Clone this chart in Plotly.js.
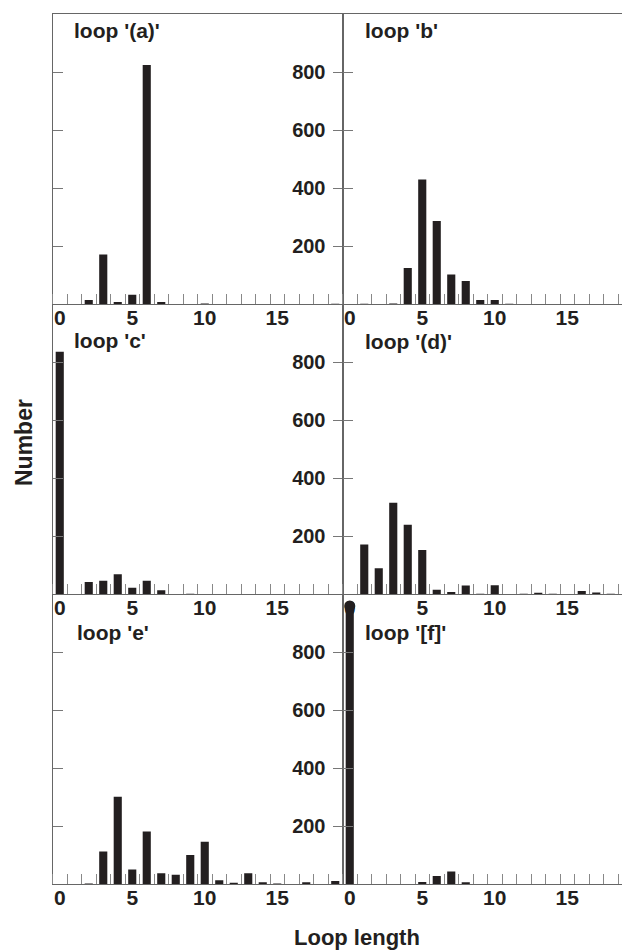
<!DOCTYPE html>
<html>
<head>
<meta charset="utf-8">
<script src="https://cdn.plot.ly/plotly-3.0.1.min.js"></script>
<style>
html, body { margin:0; padding:0; overflow:hidden; width:622px; height:951px; background:#fff; }
#chart { width:640px; height:951px; }
</style>
</head>
<body>
<div id="chart"></div>
<script>
// Loop length categories (bins)
const loopLengths = [0,1,2,3,4,5,6,7,8,9,10,11,12,13,14,15,16,17,18,19];
// Counts per panel
const loopA = [0,0,15,172,8,33,825,8,0,0,3,0,0,0,0,0,0,0,0,2];
const loopB = [0,2,0,3,125,430,287,103,80,15,15,2,0,0,0,0,0,0,0,0];
const loopC = [836,0,42,47,69,23,47,14,0,2,0,0,0,0,0,0,0,0,0,0];
const loopD = [0,172,90,316,240,153,16,8,30,2,31,0,2,5,2,0,11,6,2,0];
const loopE = [0,0,3,113,302,51,182,38,33,101,147,14,5,38,7,3,0,7,0,11];
const loopF = [960,0,0,0,0,8,29,44,7,0,0,0,0,0,0,0,0,0,0,0];
const panelLabels = ["loop '(a)'", "loop 'b'", "loop 'c'", "loop '(d)'", "loop 'e'", "loop '[f]'"];
const yTickVals = [200,400,600,800];
const xTickVals = [0,5,10,15];

const W = 640, H = 951;
const panels = [loopA, loopB, loopC, loopD, loopE, loopF];
const colPx = [[52.5,342.5],[342.5,632.5]];
const rowPx = [[14.3,304.3],[304.3,594.3],[594.3,884.3]];
const labelPos = [[72,17],[363,17],[72,327],[363,328],[75,619],[363,619]];

const barColor = '#231f20';
const font = "'Liberation Sans',Arial,Helvetica,sans-serif";

const data = [];
const layout = {
  width: W, height: H,
  margin: {l:0, r:0, t:0, b:0},
  paper_bgcolor: '#fff', plot_bgcolor: '#fff',
  showlegend: false,
  annotations: [],
  font: {family: font, color: '#231f20'}
};

panels.forEach((vals, i) => {
  const n = i + 1;
  const row = Math.floor(i / 2), col = i % 2;
  const xa = n === 1 ? 'x' : 'x' + n;
  const ya = n === 1 ? 'y' : 'y' + n;
  data.push({
    type: 'bar', x: loopLengths, y: vals, xaxis: xa, yaxis: ya,
    marker: {color: barColor, line: {width: 0}}, width: 0.56, hoverinfo: 'x+y'
  });
  const xk = n === 1 ? 'xaxis' : 'xaxis' + n;
  const yk = n === 1 ? 'yaxis' : 'yaxis' + n;
  layout[xk] = {
    domain: [colPx[col][0] / W, colPx[col][1] / W],
    anchor: ya,
    range: [-0.5, 19.5],
    showgrid: false, zeroline: false,
    showline: true, linecolor: '#666', linewidth: 1,
    mirror: row === 0,
    tickmode: 'array', tickvals: xTickVals, ticktext: xTickVals.map(String),
    ticks: '',
    tickfont: {family: font, size: 21, weight: 700, color: '#231f20'},
    ticklabelstandoff: -6,
    minor: {ticks: 'inside', ticklen: 10, tickcolor: '#888', tickwidth: 1,
            tickmode: 'linear', tick0: 0.5, dtick: 1, showgrid: false},
    fixedrange: true
  };
  layout[yk] = {
    domain: [1 - rowPx[row][1] / H, 1 - rowPx[row][0] / H],
    anchor: xa,
    range: [0, 1000],
    showgrid: false, zeroline: false,
    showline: true, linecolor: '#666', linewidth: 1,
    mirror: 'ticks',
    tickmode: 'array', tickvals: yTickVals, ticktext: yTickVals.map(String),
    ticks: 'inside', ticklen: 10, tickcolor: '#777', tickwidth: 1,
    showticklabels: col === 1,
    tickfont: {family: font, size: 20, weight: 700, color: '#231f20'},
    ticklabelstandoff: 12,
    fixedrange: true
  };
  layout.annotations.push({
    xref: 'paper', yref: 'paper',
    x: labelPos[i][0] / W, y: 1 - labelPos[i][1] / H,
    xanchor: 'left', yanchor: 'top', showarrow: false,
    text: panelLabels[i],
    font: {family: font, size: 21, weight: 700, color: '#231f20'}
  });
});

// rounded cap seen on the tallest bar of panel f
data.push({
  type: 'scatter', mode: 'markers', x: [loopLengths[0]], y: [loopF[0]],
  xaxis: 'x6', yaxis: 'y6',
  marker: {color: barColor, size: 11, symbol: 'circle'}, hoverinfo: 'skip', cliponaxis: false
});

layout.annotations.push({
  xref: 'paper', yref: 'paper', x: 24 / W, y: 1 - 443 / H,
  xanchor: 'center', yanchor: 'middle', showarrow: false, textangle: -90,
  text: 'Number', font: {family: font, size: 23, weight: 700, color: '#231f20'}
});
layout.annotations.push({
  xref: 'paper', yref: 'paper', x: 357 / W, y: 1 - 937 / H,
  xanchor: 'center', yanchor: 'middle', showarrow: false,
  text: 'Loop length', font: {family: font, size: 22, weight: 700, color: '#231f20'}
});

Plotly.newPlot('chart', data, layout, {displayModeBar: false, staticPlot: true});
</script>
</body>
</html>
